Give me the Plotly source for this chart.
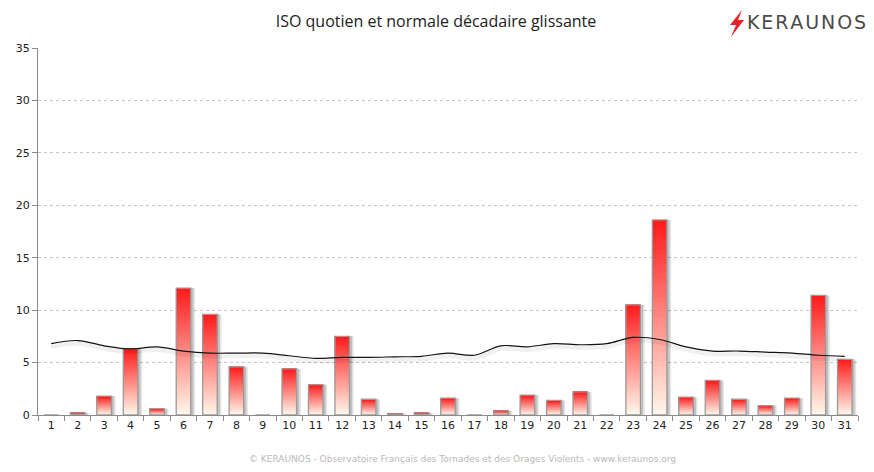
import plotly.graph_objects as go

days = [str(d) for d in range(1, 32)]
iso = [0, 0.2, 1.8, 6.3, 0.6, 12.1, 9.6, 4.6, 0, 4.4, 2.9, 7.5, 1.5, 0.1, 0.2,
       1.6, 0, 0.4, 1.9, 1.4, 2.2, 0, 10.5, 18.6, 1.7, 3.3, 1.5, 0.9, 1.6, 11.4, 5.3]
normale = [6.8, 7.1, 6.6, 6.3, 6.5, 6.1, 5.9, 5.9, 5.9, 5.65, 5.4, 5.5, 5.5, 5.55, 5.6,
           5.9, 5.7, 6.6, 6.5, 6.8, 6.7, 6.8, 7.4, 7.2, 6.5, 6.1, 6.1, 6.0, 5.9, 5.7, 5.6]
yticks = [0, 5, 10, 15, 20, 25, 30, 35]

W, H = 874, 472
L, R, T, B = 38, 16, 48, 57
PW, PH = W - L - R, H - T - B

def px(x):
    return (x - L) / PW

def py(y):
    return (H - B - y) / PH

BW = 0.55
fig = go.Figure()

# bar shadows (soft, two layers)
for off, a in [(0.16, 0.10), (0.1, 0.16)]:
    fig.add_trace(go.Bar(x=days, y=iso, width=BW, offset=-BW / 2 + off,
                         marker=dict(color="rgba(0,0,0,%g)" % a, line=dict(width=0)),
                         hoverinfo="skip", showlegend=False))

# gradient bars (overlapping segments, each running to the bar top)
N = 40
top = (255, 26, 26)
bot = (255, 248, 235)
for i in range(N):
    t = (i + 0.5) / N
    c = tuple(int(round(bot[k] + (top[k] - bot[k]) * t)) for k in range(3))
    fig.add_trace(go.Bar(x=days, y=[v * (N - i) / N for v in iso],
                         base=[v * i / N for v in iso],
                         width=BW, marker=dict(color="rgb(%d,%d,%d)" % c, line=dict(width=0)),
                         hoverinfo="skip", showlegend=False))

# outline
fig.add_trace(go.Bar(x=days, y=iso, width=BW,
                     marker=dict(color="rgba(0,0,0,0)", line=dict(color="#9a9a9a", width=1.3)),
                     showlegend=False))

# line shadow
fig.add_trace(go.Scatter(x=days, y=[v - 0.3 for v in normale], mode="lines",
                         line=dict(color="rgba(0,0,0,0.06)", width=4, shape="spline"),
                         hoverinfo="skip", showlegend=False))
fig.add_trace(go.Scatter(x=days, y=normale, mode="lines",
                         line=dict(color="#111111", width=1.2, shape="spline"),
                         showlegend=False))

bolt = [(742, 10), (730, 25), (736, 25), (731, 37), (744, 20), (738, 20), (742, 10)]
path = "M " + " L ".join("%f,%f" % (px(a), py(b)) for a, b in bolt) + " Z"

fig.update_layout(
    width=W, height=H,
    margin=dict(l=L, r=R, t=T, b=B),
    paper_bgcolor="white", plot_bgcolor="white",
    barmode="overlay", bargap=0.45,
    font=dict(family="DejaVu Sans", size=11, color="#333333"),
    title=dict(text="ISO quotien et normale décadaire glissante",
               x=436 / W, xanchor="center", y=1 - 21 / H, yanchor="middle",
               font=dict(family="Open Sans", size=16, color="#222222")),
    xaxis=dict(type="category", showgrid=False, showline=True, linecolor="#8a8a8a",
               ticks="outside", tickson="boundaries", ticklen=5, tickcolor="#8a8a8a",
               tickfont=dict(size=11, color="#222222"), range=[-0.5, 30.5]),
    yaxis=dict(range=[0, 35], tickvals=yticks, showgrid=True, gridcolor="#c4c4c4",
               griddash="3px,3px", showline=True, linecolor="#8a8a8a", ticks="outside",
               ticklen=5, tickcolor="#8a8a8a", zeroline=False,
               tickfont=dict(size=11, color="#222222")),
    shapes=[dict(type="path", xref="paper", yref="paper", path=path,
                 fillcolor="#e8222a", line=dict(width=0))],
    annotations=[
        dict(text="K\u200aE\u200aR\u200aA\u200aU\u200aN\u200aO\u200aS", xref="paper", yref="paper",
             x=px(745), y=py(22), xanchor="left", yanchor="middle", showarrow=False,
             font=dict(family="DejaVu Sans", size=19, color="#4a4a4a")),
        dict(text="© KERAUNOS - Observatoire Français des Tornades et des Orages Violents - www.keraunos.org",
             xref="paper", yref="paper", x=px(462), y=py(459), xanchor="center",
             yanchor="middle", showarrow=False,
             font=dict(family="DejaVu Sans", size=9, color="#b8b8b8")),
    ],
)

fig.write_html("out.html")
